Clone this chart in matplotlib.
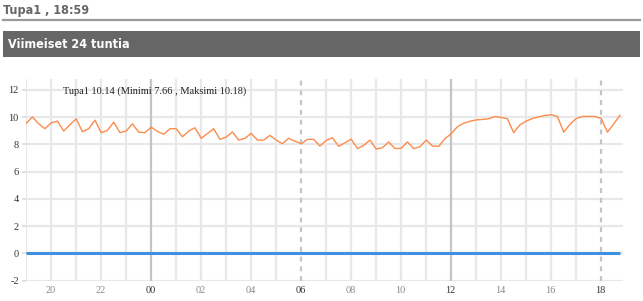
import matplotlib
matplotlib.use("Agg")
import matplotlib.pyplot as plt
import matplotlib.font_manager as fm
from matplotlib.patches import Rectangle
from matplotlib.lines import Line2D
import numpy as np

# ---- data ----
title_text = "Tupa1 , 18:59"
bar_text = "Viimeiset 24 tuntia"
series_label = "Tupa1 10.14 (Minimi 7.66 , Maksimi 10.18)"

# hours since 19:00, 15-minute samples
start_hour = 0.02
step_hour = 0.25
tupa1 = [
    9.54, 10.02, 9.51, 9.15, 9.58, 9.71, 8.98, 9.45, 9.88, 8.93,
    9.15, 9.78, 8.86, 9.03, 9.64, 8.86, 8.98, 9.51, 8.90, 8.86,
    9.27, 8.96, 8.74, 9.15, 9.15, 8.56, 8.98, 9.22, 8.45, 8.80,
    9.15, 8.37, 8.54, 8.91, 8.32, 8.45, 8.81, 8.32, 8.32, 8.66,
    8.32, 8.05, 8.45, 8.24, 8.05, 8.37, 8.37, 7.88, 8.30, 8.49,
    7.86, 8.12, 8.39, 7.69, 7.93, 8.32, 7.66, 7.76, 8.18, 7.70,
    7.71, 8.18, 7.69, 7.83, 8.32, 7.88, 7.86, 8.42, 8.78, 9.30,
    9.55, 9.70, 9.80, 9.83, 9.88, 10.05, 9.98, 9.88, 8.86, 9.44,
    9.71, 9.90, 10.03, 10.12, 10.18, 10.05, 8.90, 9.47, 9.90, 10.05,
    10.05, 10.05, 9.90, 8.90, 9.50, 10.14,
]
second = [0.0] * len(tupa1)

hour_labels = ["20", "22", "00", "02", "04", "06", "08", "10", "12", "14", "16", "18"]
label_pos = [1, 3, 5, 7, 9, 11, 13, 15, 17, 19, 21, 23]   # hours since 19:00
major_solid = [5, 17]      # 00 and 12
major_dashed = [11, 23]    # 06 and 18
yticks = [-2, 0, 2, 4, 6, 8, 10, 12]

t = start_hour + step_hour * np.arange(len(tupa1))

W, H = 643, 301
fig = plt.figure(figsize=(W / 100, H / 100), dpi=100)

def fx(px):
    return px / W

def fy(py):
    return 1 - py / H

# header font: prefer a narrow/condensed sans if present
hdr_kw = dict(family=["Liberation Sans", "DejaVu Sans"], fontsize=9)
fonts = fm.fontManager.ttflist
if any(f.name == "Liberation Sans Narrow" for f in fonts):
    hdr_kw = dict(family=["Liberation Sans Narrow", "DejaVu Sans"], fontsize=12)
elif any(f.name == "DejaVu Sans" and f.stretch == "condensed" and f.weight in (700, "bold") for f in fonts):
    hdr_kw = dict(family=["DejaVu Sans"], fontstretch="condensed", fontsize=9)

fig.text(fx(3), fy(10.5), title_text, fontweight="bold",
         color="#666666", va="center", ha="left", **hdr_kw)
fig.add_artist(Line2D([fx(3), fx(640)], [fy(19.5), fy(19.5)], color="#9a9a9a", lw=1.6))
fig.add_artist(Rectangle((fx(3), fy(57)), fx(637), 26 / H, color="#666666", lw=0))
fig.text(fx(8), fy(44), bar_text, fontweight="bold",
         color="white", va="center", ha="left", **hdr_kw)

left, right, top, bottom = 25.7, 622.7, 79, 280.7
ax = fig.add_axes([fx(left), fy(bottom), (right - left) / W, (bottom - top) / H])
ax.set_xlim(0, 23.88)
ax.set_ylim(-2, 12.8)

for h in range(24):
    if h in major_solid:
        ax.axvline(h, color="#c4c4c4", lw=1.6, zorder=1)
    elif h in major_dashed:
        ax.axvline(h, color="#c4c4c4", lw=1.6, ls=(0, (2.2, 2.2)), zorder=1)
    else:
        ax.axvline(h, color="#e8e8e8", lw=1.6, zorder=0)
for y in yticks:
    ax.axhline(y, color="#e8e8e8", lw=1.6, zorder=0)

ax.plot(t, second, color="#3f8fe3", lw=2.2, zorder=3, solid_capstyle="butt")
ax.plot(t, tupa1, color="#fb8c4c", lw=1.0, zorder=4)

for s in ax.spines.values():
    s.set_visible(False)

serif = ["Liberation Serif", "DejaVu Serif"]
ax.set_yticks(yticks)
ax.set_yticklabels([str(v) for v in yticks], family=serif, fontsize=7.5, color="#333333")
ax.tick_params(axis="y", length=3, width=1.4, color="#e0e0e0", pad=2)
ax.set_xticks(label_pos)
ax.set_xticklabels(hour_labels, family=serif, fontsize=7.5)
ax.tick_params(axis="x", length=0, pad=4)
for lab, pos in zip(ax.get_xticklabels(), label_pos):
    lab.set_color("#333333" if pos in major_solid + major_dashed else "#8a8a8a")

ax.text(1.5, 11.9, series_label, family=serif, fontsize=7.5, color="#222222",
        va="center", ha="left", zorder=5)

fig.savefig("out.png", dpi=100)
